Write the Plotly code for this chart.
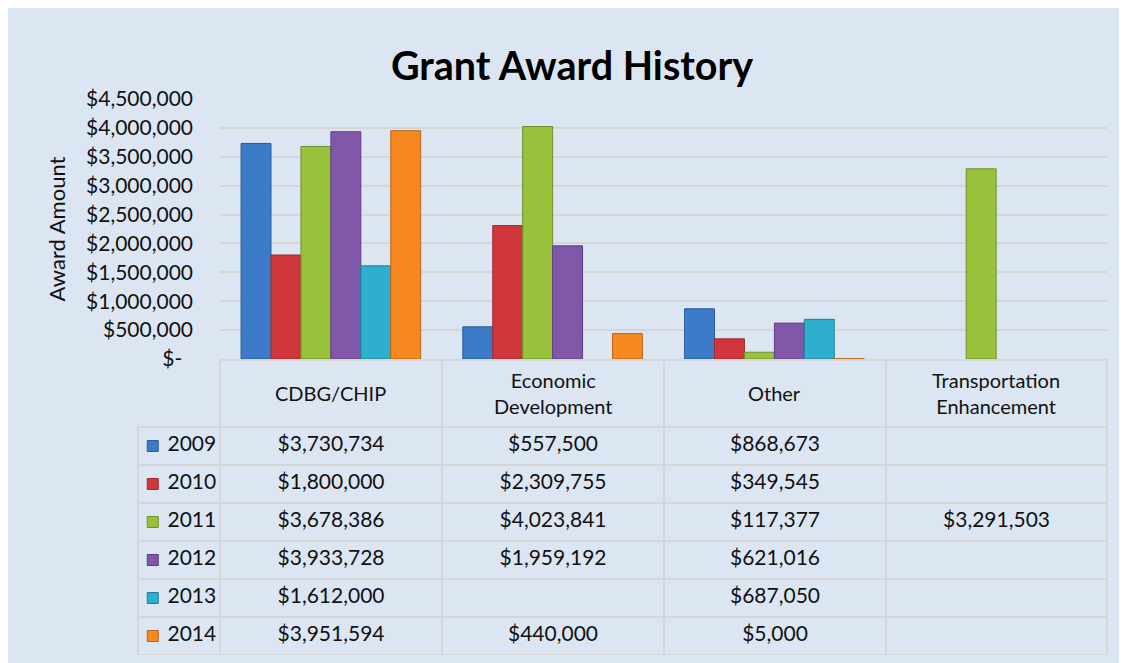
import plotly.graph_objects as go

# ---------------- data ----------------
categories = ["CDBG/CHIP", "Economic Development", "Other", "Transportation Enhancement"]
category_labels = ["CDBG/CHIP", "Economic<br>Development", "Other", "Transportation<br>Enhancement"]
years = ["2009", "2010", "2011", "2012", "2013", "2014"]

v2009 = [3730734, 557500, 868673, None]
v2010 = [1800000, 2309755, 349545, None]
v2011 = [3678386, 4023841, 117377, 3291503]
v2012 = [3933728, 1959192, 621016, None]
v2013 = [1612000, None, 687050, None]
v2014 = [3951594, 440000, 5000, None]
series = [v2009, v2010, v2011, v2012, v2013, v2014]

y_tickvals = [0, 500000, 1000000, 1500000, 2000000, 2500000, 3000000, 3500000, 4000000, 4500000]
y_ticktext = ["$-\u00a0\u00a0", "$500,000", "$1,000,000", "$1,500,000", "$2,000,000",
              "$2,500,000", "$3,000,000", "$3,500,000", "$4,000,000", "$4,500,000"]

# ---------------- styles ----------------
colors = ["#3B7BC8", "#D0373D", "#99C13B", "#8157AA", "#2EAFCD", "#F5891F"]
edge = ["#2A5C99", "#9E2A2E", "#6F8F2A", "#5E3F80", "#1F8098", "#B9651A"]
BG = "#DCE6F2"
GRID = "#D6D6D6"
CLEAR = "rgba(0,0,0,0)"
FONT = "Lato, 'Open Sans', sans-serif"
TXT = "#111111"

OFF = 8  # page body offset
W, H = 1119, 655
ML, MR, MT, MB = 130, 20, 91, 8
PW, PH = W - ML - MR, H - MT - MB


def px_x(x):
    return (x - OFF - ML) / PW


def px_y(y):
    return (H - MB - (y - OFF)) / PH


fig = go.Figure()

for yr, vals, c, ec in zip(years, series, colors, edge):
    fig.add_trace(go.Bar(
        x=categories, y=vals, name=yr,
        marker=dict(color=c, line=dict(color=ec, width=1)),
        xaxis="x", yaxis="y", showlegend=False,
    ))

# legend keys in the table's first column
fig.add_trace(go.Scatter(
    x=[0.18] * len(years), y=years, mode="markers",
    marker=dict(symbol="square", size=11, color=colors, line=dict(color=edge, width=1)),
    xaxis="x2", yaxis="y2", showlegend=False, hoverinfo="skip", cliponaxis=False,
))

# table
def fmt(v):
    return "" if v is None else f"${v:,}"

first_col = ["\u00a0\u00a0\u00a0\u00a0" + yr for yr in years]
cols = [first_col]
for ci in range(len(categories)):
    cols.append([fmt(s[ci]) for s in series])

fig.add_trace(go.Table(
    domain=dict(x=[0, 1], y=[px_y(655), px_y(360)]),
    columnwidth=[82, 222, 222, 222, 221],
    header=dict(
        values=["", "", "", "", ""],
        height=67,
        fill=dict(color=[CLEAR] + [BG] * 4),
        line=dict(color=[CLEAR] + [GRID] * 4, width=2),
    ),
    cells=dict(
        values=cols,
        height=38,
        align=["left", "center", "center", "center", "center"],
        fill=dict(color=[CLEAR, BG, BG, BG, BG]),
        line=dict(color=GRID, width=2),
        font=dict(family=FONT, size=21, color=TXT),
    ),
))

annotations = []
for cat, lab in zip(categories, category_labels):
    annotations.append(dict(
        x=cat, xref="x", y=px_y(393.5), yref="paper",
        text=lab, showarrow=False, xanchor="center", yanchor="middle",
        font=dict(family=FONT, size=20, color=TXT),
    ))

fig.update_layout(
    width=W, height=H,
    margin=dict(l=ML, r=MR, t=MT, b=MB),
    paper_bgcolor=BG,
    plot_bgcolor=BG,
    barmode="group", bargap=0.19, bargroupgap=0,
    title=dict(text="<b>Grant Award History</b>", x=(572 - OFF) / W, xref="container", xanchor="center",
               y=1 - (66 - OFF) / H, yref="container", yanchor="middle",
               font=dict(family=FONT, size=39.5, color="#000000")),
    xaxis=dict(domain=[px_x(220), 1], showticklabels=False, showgrid=False, zeroline=False,
               showline=False, ticks=""),
    yaxis=dict(domain=[px_y(359), 1], range=[0, 4500000], tickvals=y_tickvals, ticktext=y_ticktext,
               showgrid=True, gridcolor=GRID, gridwidth=2, zeroline=False, showline=False,
               ticks="", automargin=False, ticklabelstandoff=26,
               tickfont=dict(family=FONT, size=21, color=TXT),
               title=dict(text="Award Amount", standoff=14,
                          font=dict(family=FONT, size=22, color=TXT))),
    xaxis2=dict(domain=[px_x(138), px_x(220)], range=[0, 1], visible=False, fixedrange=True,
                anchor="y2"),
    yaxis2=dict(domain=[px_y(655), px_y(427)], range=[5.5, -0.5], type="category",
                visible=False, fixedrange=True, anchor="x2"),
    annotations=annotations,
)

fig.write_html("out.html")
